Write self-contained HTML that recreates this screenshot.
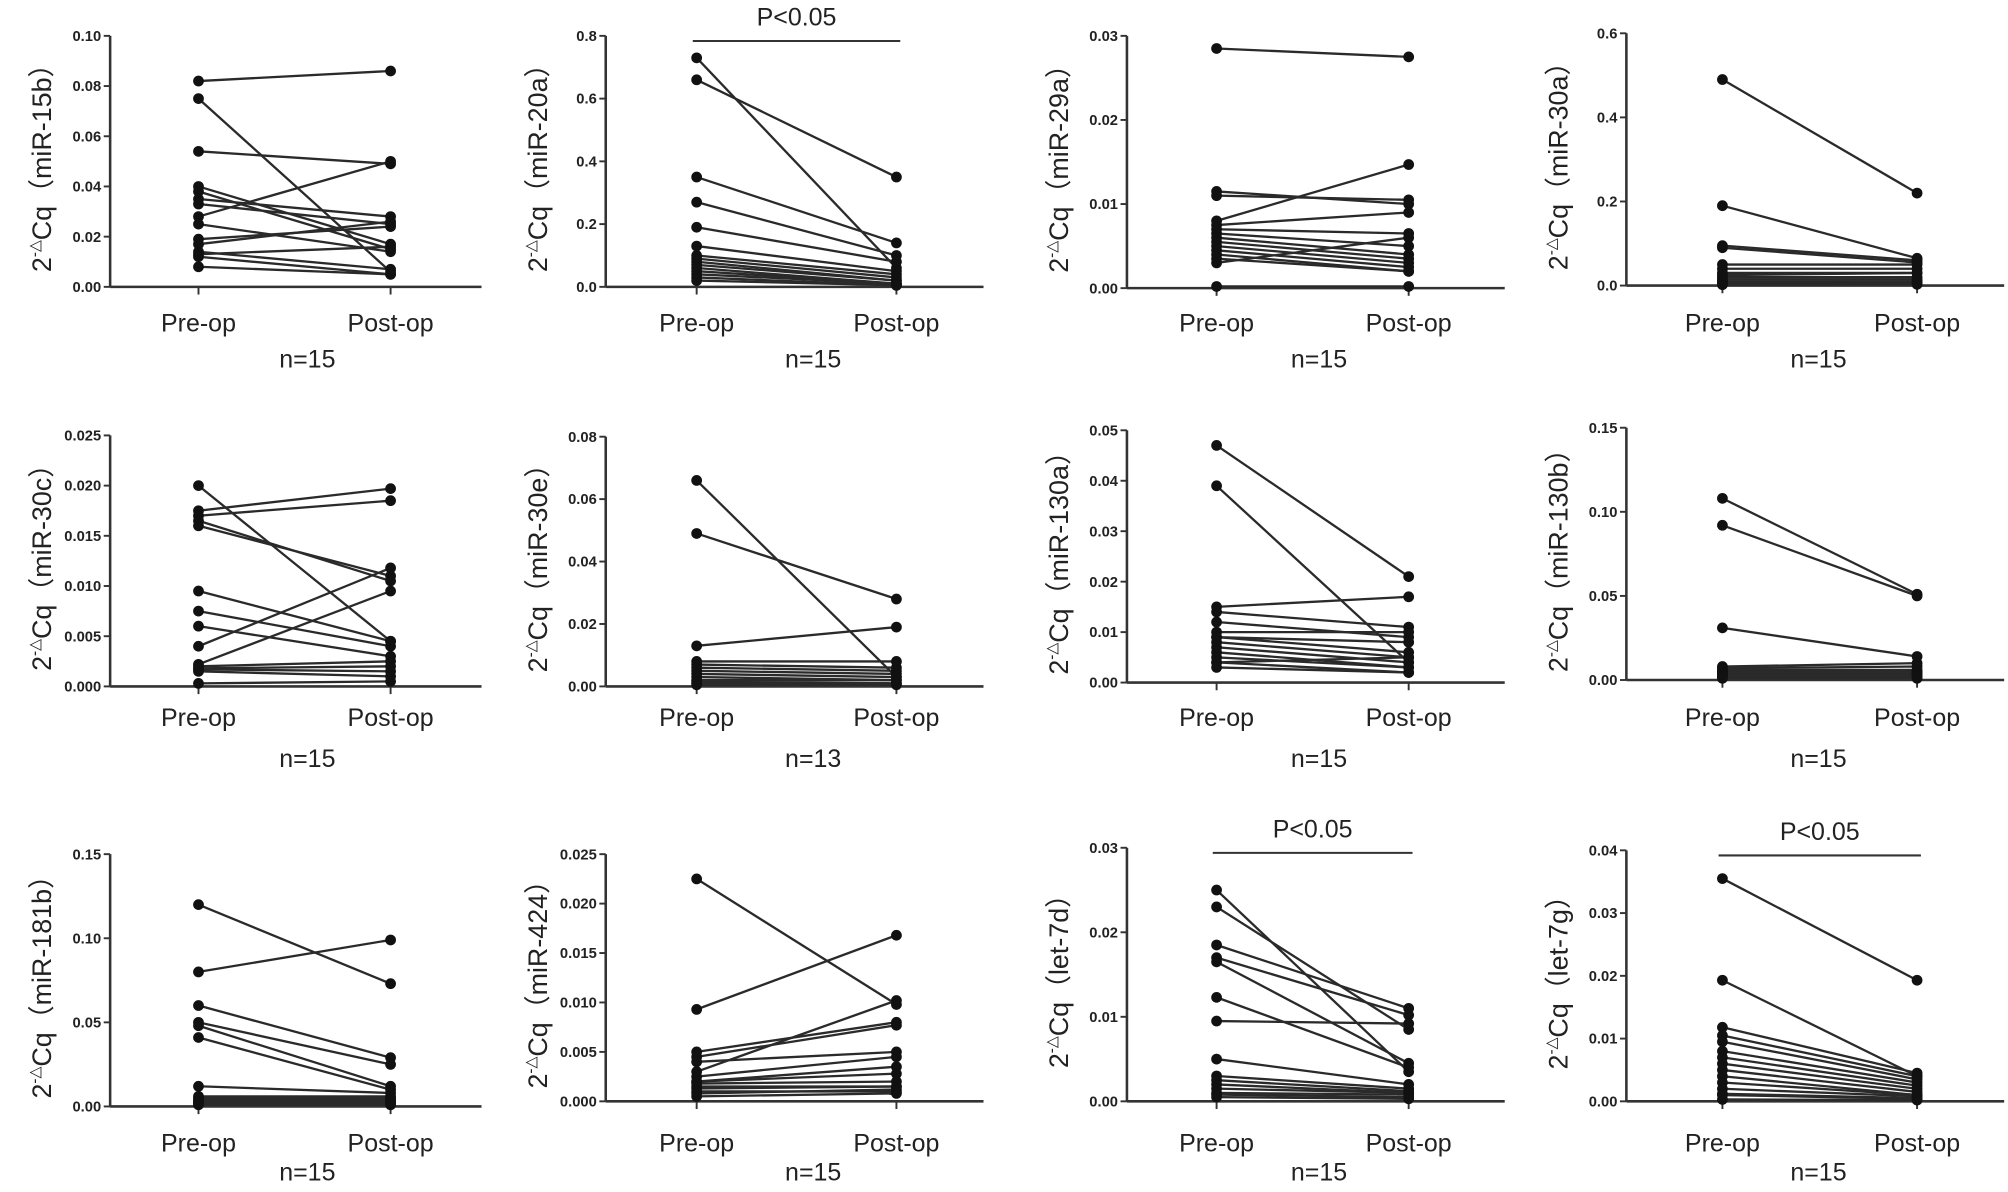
<!DOCTYPE html>
<html><head><meta charset="utf-8"><style>
html,body{margin:0;padding:0;background:#fff;}
svg{display:block;}
text{font-family:"Liberation Sans",Arial,sans-serif;fill:#222;}
.tick{font-size:11.5px;font-weight:bold;}
.cat{font-size:19.5px;}
.ttl{font-size:21px;}
</style></head><body>
<svg id="fig" width="2008" height="1192" viewBox="0 0 1568 930.8" preserveAspectRatio="none" xmlns="http://www.w3.org/2000/svg"></svg>
<script>
const names=["miR-15b","miR-20a","miR-29a","miR-30a","miR-30c","miR-30e","miR-130a","miR-130b","miR-181b","miR-424","let-7d","let-7g"];
const nLabels=["n=15","n=15","n=15","n=15","n=15","n=13","n=15","n=15","n=15","n=15","n=15","n=15"];
const yMaxes=[0.10,0.8,0.03,0.6,0.025,0.08,0.05,0.15,0.15,0.025,0.03,0.04];
const yTickLabels=[
["0.00","0.02","0.04","0.06","0.08","0.10"],
["0.0","0.2","0.4","0.6","0.8"],
["0.00","0.01","0.02","0.03"],
["0.0","0.2","0.4","0.6"],
["0.000","0.005","0.010","0.015","0.020","0.025"],
["0.00","0.02","0.04","0.06","0.08"],
["0.00","0.01","0.02","0.03","0.04","0.05"],
["0.00","0.05","0.10","0.15"],
["0.00","0.05","0.10","0.15"],
["0.000","0.005","0.010","0.015","0.020","0.025"],
["0.00","0.01","0.02","0.03"],
["0.00","0.01","0.02","0.03","0.04"]];
const sigLabels=["","P<0.05","","","","","","","","","P<0.05","P<0.05"];
const pre15b=[0.082,0.075,0.054,0.040,0.038,0.035,0.033,0.028,0.025,0.019,0.017,0.014,0.013,0.012,0.008];
const post15b=[0.086,0.006,0.049,0.017,0.015,0.028,0.025,0.050,0.014,0.024,0.026,0.007,0.016,0.005,0.005];
const pre20a=[0.73,0.66,0.35,0.27,0.19,0.13,0.10,0.09,0.08,0.07,0.06,0.05,0.04,0.03,0.02];
const post20a=[0.06,0.35,0.14,0.10,0.08,0.05,0.04,0.03,0.02,0.02,0.01,0.01,0.01,0.005,0.005];
const pre29a=[0.0285,0.0115,0.011,0.008,0.0075,0.007,0.0065,0.006,0.0055,0.005,0.0045,0.004,0.0035,0.003,0.0002];
const post29a=[0.0275,0.010,0.0105,0.0147,0.009,0.0065,0.005,0.004,0.0035,0.003,0.0025,0.002,0.002,0.006,0.0002];
const pre30a=[0.49,0.19,0.095,0.09,0.05,0.04,0.03,0.025,0.02,0.015,0.01,0.01,0.005,0.005,0.002];
const post30a=[0.22,0.065,0.06,0.055,0.05,0.04,0.03,0.03,0.02,0.015,0.01,0.01,0.005,0.005,0.003];
const pre30c=[0.020,0.0175,0.017,0.0165,0.016,0.0095,0.0075,0.006,0.004,0.0022,0.002,0.0018,0.0017,0.0015,0.0003];
const post30c=[0.0045,0.0197,0.0185,0.0105,0.011,0.0045,0.004,0.003,0.0118,0.0095,0.0025,0.002,0.0015,0.001,0.0005];
const pre30e=[0.066,0.049,0.013,0.008,0.007,0.006,0.005,0.004,0.003,0.002,0.0015,0.001,0.0005];
const post30e=[0.003,0.028,0.019,0.008,0.006,0.005,0.004,0.003,0.002,0.002,0.001,0.001,0.0005];
const pre130a=[0.047,0.039,0.015,0.014,0.012,0.010,0.009,0.009,0.008,0.007,0.006,0.005,0.004,0.004,0.003];
const post130a=[0.021,0.004,0.017,0.011,0.009,0.010,0.006,0.008,0.005,0.004,0.003,0.003,0.002,0.005,0.002];
const pre130b=[0.108,0.092,0.031,0.008,0.007,0.006,0.005,0.005,0.004,0.004,0.003,0.003,0.002,0.002,0.001];
const post130b=[0.051,0.050,0.014,0.010,0.008,0.006,0.005,0.005,0.004,0.004,0.003,0.003,0.002,0.002,0.001];
const pre181b=[0.12,0.08,0.06,0.05,0.048,0.041,0.012,0.006,0.005,0.004,0.003,0.003,0.002,0.002,0.001];
const post181b=[0.073,0.099,0.029,0.025,0.012,0.010,0.008,0.006,0.005,0.004,0.004,0.003,0.002,0.002,0.001];
const pre424=[0.0225,0.0093,0.005,0.0045,0.004,0.003,0.0025,0.002,0.002,0.0018,0.0015,0.0013,0.001,0.0008,0.0005];
const post424=[0.0098,0.0168,0.008,0.0077,0.005,0.0102,0.0045,0.0035,0.0028,0.002,0.0015,0.0015,0.001,0.0012,0.0008];
const pre7d=[0.025,0.023,0.0185,0.017,0.0165,0.0123,0.0095,0.005,0.003,0.0025,0.002,0.0015,0.001,0.0008,0.0005];
const post7d=[0.0035,0.0085,0.011,0.0102,0.0045,0.004,0.0092,0.002,0.0015,0.0012,0.001,0.001,0.0008,0.0005,0.0003];
const pre7g=[0.0355,0.0193,0.0118,0.0105,0.0095,0.008,0.007,0.006,0.005,0.004,0.003,0.002,0.0012,0.001,0.0003];
const post7g=[0.0193,0.004,0.0045,0.004,0.0035,0.003,0.0025,0.002,0.0015,0.001,0.001,0.0008,0.0005,0.0004,0.0002];
const preSets=[pre15b,pre20a,pre29a,pre30a,pre30c,pre30e,pre130a,pre130b,pre181b,pre424,pre7d,pre7g];
const postSets=[post15b,post20a,post29a,post30a,post30c,post30e,post130a,post130b,post181b,post424,post7d,post7g];

const svg=document.getElementById('fig');
const NS='http://www.w3.org/2000/svg';
function mk(tag,attrs,parent){const e=document.createElementNS(NS,tag);for(const k in attrs)e.setAttribute(k,attrs[k]);parent.appendChild(e);return e;}
const colAxis=[86,473,880,1270],colPre=[155,544,950,1345],colPost=[305,700,1100,1497],colEnd=[376,768,1175,1565],colN=[240,635,1030,1420];
const tops=[28,28,28,26,340,341,336,334,667,667,662,664];
const zeros=[224,224,225,223,536,536,533,531,864,860,860,860];
const rowCat=[259,567,899],rowN=[287,599,922];
for(let p=0;p<12;p++){
  const c=p%4,r=Math.floor(p/4);
  const g=mk('g',{},svg);
  
  
  const ax=colAxis[c],top=tops[p],zero=zeros[p],ymax=yMaxes[p];
  const yS=v=>zero-(v/ymax)*(zero-top);
  const xPre=colPre[c],xPost=colPost[c];
  const ya=mk('line',{x1:ax,y1:top,x2:ax,y2:zero,stroke:'#333','stroke-width':2},g);
  
  const xa=mk('line',{x1:ax,y1:zero,x2:colEnd[c],y2:zero,stroke:'#333','stroke-width':2},g);
  
  const tl=yTickLabels[p];
  for(let i=0;i<tl.length;i++){
    const v=ymax*i/(tl.length-1),y=yS(v);
    mk('line',{x1:ax-5,y1:y,x2:ax,y2:y,stroke:'#333','stroke-width':1.5},g);
    const t=mk('text',{x:ax-7,y:y+4,'text-anchor':'end',class:'tick'},g);t.textContent=tl[i];
    
  }
  [xPre,xPost].forEach(x=>mk('line',{x1:x,y1:zero,x2:x,y2:zero+6,stroke:'#333','stroke-width':1.5},g));
  const pre=preSets[p],post=postSets[p];
  for(let i=0;i<pre.length;i++){
    const l=mk('line',{x1:xPre,y1:yS(pre[i]),x2:xPost,y2:yS(post[i]),stroke:'#2a2a2a','stroke-width':1.8},g);
    
    
  }
  for(let i=0;i<pre.length;i++){
    const a=mk('circle',{cx:xPre,cy:yS(pre[i]),r:4.2,fill:'#111'},g);
    
    
    const b=mk('circle',{cx:xPost,cy:yS(post[i]),r:4.2,fill:'#111'},g);
    
    
  }
  const t1=mk('text',{x:xPre,y:rowCat[r],'text-anchor':'middle',class:'cat'},g);t1.textContent='Pre-op';
  
  const t2=mk('text',{x:xPost,y:rowCat[r],'text-anchor':'middle',class:'cat'},g);t2.textContent='Post-op';
  
  const t3=mk('text',{x:colN[c],y:rowN[r],'text-anchor':'middle',class:'cat'},g);t3.textContent=nLabels[p];
  
  const ty=(top+zero)/2, tx=ax-46;
  const tt=mk('text',{x:tx,y:ty,'text-anchor':'middle',class:'ttl',transform:'rotate(-90 '+tx+' '+ty+')'},g);
  tt.innerHTML='2<tspan font-size="12" dy="-9">-△</tspan><tspan dy="9">Cq（'+names[p]+'）</tspan>';
  
  if(sigLabels[p]){
    const sy=top+4;
    const sl=mk('line',{x1:xPre-3,y1:sy,x2:xPost+3,y2:sy,stroke:'#333','stroke-width':1.6},g);
    
    const st=mk('text',{x:(xPre+xPost)/2,y:sy-12,'text-anchor':'middle',class:'cat'},g);st.textContent=sigLabels[p];
    
  }
}
</script>
</body></html>
